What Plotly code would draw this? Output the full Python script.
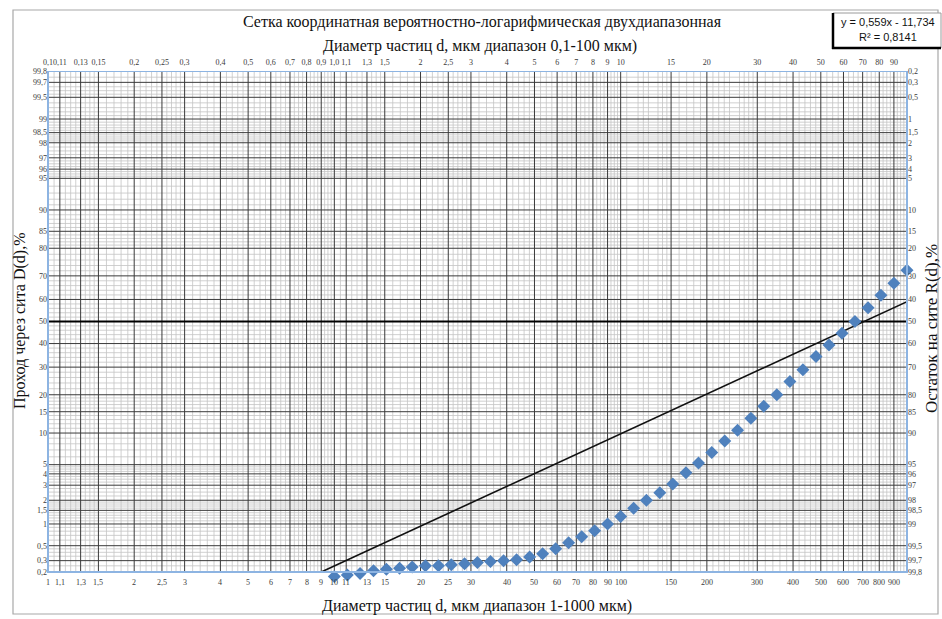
import math
import plotly.graph_objects as go
from statistics import NormalDist

_nd = NormalDist()


def probit(pct):
    """Probability-paper ordinate: standard normal quantile of a percentage."""
    return _nd.inv_cdf(pct / 100.0)


def fmt(v):
    """Number label with a decimal comma."""
    return ("%g" % v).replace(".", ",")


# ---- measured grain-size distribution --------------------------------------
diameter_um = [10, 11.1, 12.3, 13.7, 15.2, 16.9, 18.7, 20.8, 23.1, 25.6, 28.5,
               31.6, 35.1, 39.0, 43.3, 48.1, 53.4, 59.3, 65.8, 73.1, 81.1, 90.0,
               100, 111, 123, 137, 152, 169, 187, 208, 231, 256, 285, 316, 351,
               390, 433, 481, 534, 593, 658, 731, 811, 900, 1000]
passing_pct = [0.17, 0.18, 0.19, 0.21, 0.22, 0.23, 0.24, 0.25, 0.25, 0.26, 0.27,
               0.28, 0.29, 0.30, 0.31, 0.34, 0.38, 0.45, 0.55, 0.67, 0.81, 1.0,
               1.25, 1.6, 2.0, 2.45, 3.1, 4.1, 5.2, 6.6, 8.5, 10.6, 13.3, 16.5,
               20.0, 24.5, 29.0, 34.4, 39.4, 44.6, 50.0, 56.3, 61.9, 67.0, 72.2]

# linear trend (straight line on the probability-log grid)
trend_d = [9.0, 1000.0]
trend_pct = [0.2, 59.0]
trend_equation = "y = 0,559x - 11,734"
trend_r2 = "R² = 0,8141"

# ---- axis ticks -------------------------------------------------------------
bottom_ticks = [1, 1.1, 1.3, 1.5, 2, 2.5, 3, 4, 5, 6, 7, 8, 9,
                10, 11, 13, 15, 20, 25, 30, 40, 50, 60, 70, 80, 90,
                100, 150, 200, 300, 400, 500, 600, 700, 800, 900]
top_ticks = [0.1, 0.11, 0.13, 0.15, 0.2, 0.25, 0.3, 0.4, 0.5, 0.6, 0.7, 0.8, 0.9,
             1.0, 1.1, 1.3, 1.5, 2, 2.5, 3, 4, 5, 6, 7, 8, 9,
             10, 15, 20, 30, 40, 50, 60, 70, 80, 90]
top_text = ["0,1", "0,11", "0,13", "0,15", "0,2", "0,25", "0,3", "0,4", "0,5",
            "0,6", "0,7", "0,8", "0,9", "1,0", "1,1", "1,3", "1,5", "2", "2,5",
            "3", "4", "5", "6", "7", "8", "9", "10", "15", "20", "30", "40",
            "50", "60", "70", "80", "90"]
pct_ticks = [0.2, 0.3, 0.5, 1, 1.5, 2, 3, 4, 5, 10, 15, 20, 30, 40, 50, 60, 70,
             80, 85, 90, 95, 96, 97, 98, 98.5, 99, 99.5, 99.7, 99.8]

# ---- grid of the probability-log paper --------------------------------------
minor_mult = [1.05, 1.15, 1.2, 1.25, 1.35, 1.4, 1.45, 1.6, 1.7, 1.8, 1.9,
              2.1, 2.2, 2.3, 2.4, 2.6, 2.7, 2.8, 2.9, 3.2, 3.4, 3.6, 3.8,
              4.2, 4.4, 4.6, 4.8, 5.25, 5.5, 5.75, 6.25, 6.5, 6.75,
              7.25, 7.5, 7.75, 8.25, 8.5, 8.75, 9.25, 9.5, 9.75]
minor_x = [m * dec for dec in (1, 10, 100) for m in minor_mult]
major_x = bottom_ticks[1:]

minor_low = [0.25, 0.35, 0.4, 0.45, 0.6, 0.7, 0.8, 0.9, 1.1, 1.2, 1.3, 1.4,
             1.6, 1.7, 1.8, 1.9, 2.25, 2.5, 2.75, 3.25, 3.5, 3.75, 4.25, 4.5,
             4.75, 6, 7, 8, 9, 11, 12, 13, 14, 16, 17, 18, 19, 22, 24, 26, 28,
             32, 34, 36, 38, 42, 44, 46, 48]
minor_y = minor_low + [round(100 - v, 4) for v in minor_low]
major_y = [p for p in pct_ticks if p not in (0.2, 99.8, 50)]

# ---- geometry ---------------------------------------------------------------
W, H = 942, 619
PL, PR, PT, PB = 48, 907, 71, 572          # grid frame in pixels
EXTRA = 8                                   # room under the grid for low points
Y0, Y1 = probit(0.2), probit(99.8)
X0, X1 = 1.0, 1000.0
px_per_sigma = (PB - PT) / (Y1 - Y0)
Y_LOW = Y0 - EXTRA / px_per_sigma


def vlines(vals):
    xs, ys = [], []
    for v in vals:
        xs += [v, v, None]
        ys += [Y0, Y1, None]
    return xs, ys


def hlines(vals):
    xs, ys = [], []
    for v in vals:
        xs += [X0, X1, None]
        ys += [probit(v), probit(v), None]
    return xs, ys


MINOR = dict(color="#c4c4c4", width=0.8)
MAJOR = dict(color="#3a3a3a", width=1)

fig = go.Figure()
for xs, ys, ln in [(*vlines(minor_x), MINOR), (*hlines(minor_y), MINOR),
                   (*vlines(major_x), MAJOR), (*hlines(major_y), MAJOR),
                   (*hlines([50]), dict(color="#000000", width=2.2))]:
    fig.add_trace(go.Scatter(x=xs, y=ys, mode="lines", line=ln,
                             hoverinfo="skip", connectgaps=False))

# trend line
lx = [math.log10(d) for d in trend_d]
k = (probit(trend_pct[1]) - probit(trend_pct[0])) / (lx[1] - lx[0])
line_y = [probit(trend_pct[0]) + k * (v - lx[0]) for v in lx]
fig.add_trace(go.Scatter(x=trend_d, y=line_y, mode="lines",
                         line=dict(color="#111111", width=1.6), hoverinfo="skip"))

# measured points
fig.add_trace(go.Scatter(x=diameter_um, y=[probit(p) for p in passing_pct],
                         mode="markers", cliponaxis=False,
                         marker=dict(symbol="diamond", size=10, color="#4F81BD",
                                     line=dict(width=0))))

# companion axes (top: 0.1-100 um, right: residue on sieve)
fig.add_trace(go.Scatter(x=[0.1, 100], y=[Y0, Y1], xaxis="x2", yaxis="y2",
                         mode="markers", marker=dict(opacity=0), hoverinfo="skip"))

TICKFONT = dict(family="Liberation Serif", size=8, color="#3a3a3a")
BORDER = "#8DB4E2"
pct_vals = [probit(p) for p in pct_ticks]
fig.update_layout(
    width=W, height=H,
    margin=dict(l=PL, r=W - PR, t=PT, b=H - PB - EXTRA),
    paper_bgcolor="white", plot_bgcolor="white", showlegend=False,
    xaxis=dict(type="log", range=[0, 3], showticklabels=False,
               showgrid=False, zeroline=False, ticks="", showline=False),
    xaxis2=dict(type="log", range=[-1, 2], overlaying="x", side="top",
                tickvals=top_ticks, ticktext=top_text, tickangle=0,
                ticklabelstandoff=3,
                showgrid=False, zeroline=False, ticks="", tickfont=TICKFONT,
                showline=False),
    yaxis=dict(range=[Y_LOW, Y1], tickvals=pct_vals,
               ticktext=[fmt(p) for p in pct_ticks], showgrid=False,
               zeroline=False, ticks="", tickfont=TICKFONT, showline=False),
    yaxis2=dict(range=[Y_LOW, Y1], overlaying="y", side="right",
                tickvals=pct_vals,
                ticktext=[fmt(round(100 - p, 4)) for p in pct_ticks],
                showgrid=False, zeroline=False, ticks="", tickfont=TICKFONT,
                showline=False),
)

# bottom scale labels (1-1000 um) under the grid frame
for v in bottom_ticks:
    fig.add_annotation(text=fmt(v), xref="paper", yref="y",
                       x=math.log10(v) / 3.0, y=Y0, yshift=-4,
                       xanchor="center", yanchor="top", showarrow=False,
                       font=TICKFONT)

# grid frame
fig.add_shape(type="rect", xref="paper", yref="y", x0=0, x1=1, y0=Y0, y1=Y1,
              line=dict(color=BORDER, width=2), layer="above")


def px(X):
    return (X - PL) / (PR - PL)


def py(Y):
    return (PB + EXTRA - Y) / (PB + EXTRA - PT)


SERIF = "Liberation Serif"
notes = [
    ("Сетка координатная вероятностно-логарифмическая двухдиапазонная", 482, 22, 16, 0),
    ("Диаметр частиц d, мкм диапазон 0,1-100 мкм)", 480, 46, 16, 0),
    ("Диаметр частиц d, мкм диапазон 1-1000 мкм)", 477, 606, 16, 0),
    ("Проход через сита D(d),%", 20, 321, 16, -90),
    ("Остаток на сите R(d),%", 931, 329, 17, -90),
]
for text, X, Y, size, ang in notes:
    fig.add_annotation(text=text, xref="paper", yref="paper", x=px(X), y=py(Y),
                       xanchor="center", yanchor="middle", showarrow=False,
                       textangle=ang, font=dict(family=SERIF, size=size, color="#111111"))

# trend equation box
fig.add_shape(type="rect", xref="paper", yref="paper",
              x0=px(833), x1=px(941), y0=py(48), y1=py(13),
              fillcolor="white", line=dict(color="#9a9a9a", width=1))
fig.add_shape(type="line", xref="paper", yref="paper", x0=px(833), x1=px(833),
              y0=py(49), y1=py(13), line=dict(color="#000000", width=2.5))
fig.add_shape(type="line", xref="paper", yref="paper", x0=px(832), x1=px(941),
              y0=py(48), y1=py(48), line=dict(color="#000000", width=2.5))
for text, Y in [(trend_equation, 22), (trend_r2, 37)]:
    fig.add_annotation(text=text, xref="paper", yref="paper",
                       x=px(888), y=py(Y), showarrow=False, xanchor="center",
                       yanchor="middle",
                       font=dict(family="Liberation Sans", size=11, color="#111111"))

# chart-area frame
fig.add_shape(type="rect", xref="paper", yref="paper",
              x0=px(13), x1=px(938), y0=py(614), y1=py(10),
              line=dict(color="#a8a8a8", width=1.2), layer="below")

fig.write_html("out.html")
